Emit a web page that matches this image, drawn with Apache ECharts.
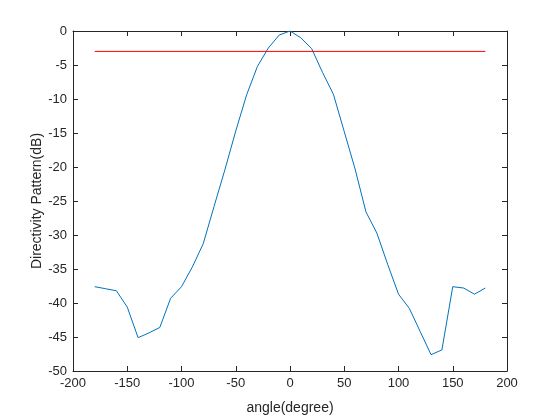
<!DOCTYPE html>
<html>
<head>
<meta charset="utf-8">
<script src="https://cdn.jsdelivr.net/npm/echarts@6/dist/echarts.min.js"></script>
<style>html,body{margin:0;padding:0;background:#fff;}#c{width:560px;height:420px;}</style>
</head>
<body>
<div id="c"></div>
<script>
var angles = [-180,-170,-160,-150,-140,-130,-120,-110,-100,-90,-80,-70,-60,-50,-40,-30,-20,-10,0,10,20,30,40,50,60,70,80,90,100,110,120,130,140,150,160,170,180];
var pattern = [-37.6,-37.9,-38.2,-40.6,-45.1,-44.4,-43.6,-39.3,-37.6,-34.7,-31.3,-25.8,-20.4,-14.7,-9.4,-5.2,-2.5,-0.6,0,-1.0,-2.6,-6.1,-9.3,-14.8,-20.3,-26.6,-29.7,-34.3,-38.7,-40.8,-44.2,-47.6,-46.9,-37.6,-37.8,-38.7,-37.8];
var halfPowerX = [-180, 180];
var halfPowerY = [-3, -3];
var xLabel = 'angle(degree)';
var yLabel = 'Directivity Pattern(dB)';

var font = 'Liberation Sans, Arial, sans-serif';
var chart = echarts.init(document.getElementById('c'), null, {renderer: 'canvas'});
var axisLine = {show: true, onZero: false, lineStyle: {color: '#262626', width: 1}};
var tick = {show: true, inside: true, length: 5, lineStyle: {color: '#262626'}};
chart.setOption({
  animation: false,
  backgroundColor: '#ffffff',
  color: ['#0072BD', '#FF0000'],
  grid: {left: 73, top: 31, right: 53, bottom: 47, containLabel: false},
  xAxis: [{
    type: 'value', min: -200, max: 200, interval: 50, position: 'bottom',
    axisLine: axisLine, axisTick: tick, splitLine: {show: false},
    axisLabel: {color: '#262626', fontFamily: font, fontSize: 13, margin: 6},
    name: xLabel, nameLocation: 'middle', nameGap: 30, nameMoveOverlap: false,
    nameTextStyle: {color: '#262626', fontFamily: font, fontSize: 14}
  }, {
    type: 'value', min: -200, max: 200, interval: 50, position: 'top',
    axisLine: axisLine, axisTick: tick, splitLine: {show: false}, axisLabel: {show: false}
  }],
  yAxis: [{
    type: 'value', min: -50, max: 0, interval: 5, position: 'left',
    axisLine: axisLine, axisTick: tick, splitLine: {show: false},
    axisLabel: {color: '#262626', fontFamily: font, fontSize: 13, margin: 6},
    name: yLabel, nameLocation: 'middle', nameGap: 29, nameMoveOverlap: false,
    nameTextStyle: {color: '#262626', fontFamily: font, fontSize: 14}
  }, {
    type: 'value', min: -50, max: 0, interval: 5, position: 'right',
    axisLine: axisLine, axisTick: tick, splitLine: {show: false}, axisLabel: {show: false}
  }],
  series: [{
    type: 'line', xAxisIndex: 0, yAxisIndex: 0, z: 3,
    data: angles.map(function (a, i) { return [a, pattern[i]]; }),
    showSymbol: false, symbol: 'none',
    itemStyle: {color: '#0072BD'},
    lineStyle: {color: '#0072BD', width: 1}
  }, {
    type: 'line', xAxisIndex: 0, yAxisIndex: 0, z: 4,
    data: halfPowerX.map(function (a, i) { return [a, halfPowerY[i]]; }),
    showSymbol: false, symbol: 'none',
    itemStyle: {color: '#FF0000'},
    lineStyle: {color: '#FF0000', width: 1}
  }]
});
</script>
</body>
</html>
